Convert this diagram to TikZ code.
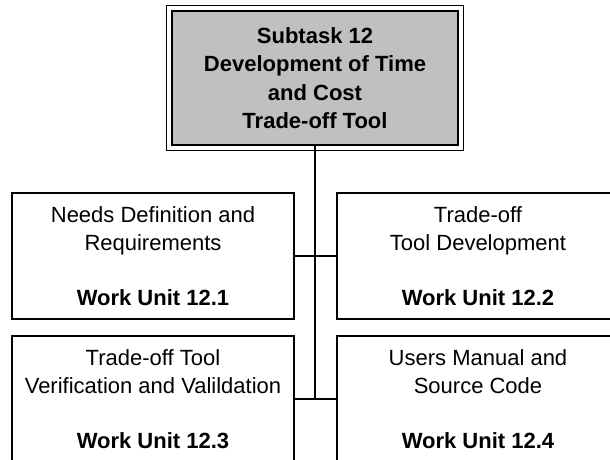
\documentclass[tikz,border=0pt]{standalone}
\usepackage{fontspec}
\setmainfont{Liberation Sans}
\definecolor{boxgray}{HTML}{C0C0C0}
\begin{document}
\begin{tikzpicture}[x=1pt,y=-1pt,
  unitbox/.style={draw=black, line width=1.5pt, minimum width=282pt, minimum height=126pt,
    inner sep=0pt, align=center, font=\fontsize{22}{27.5}\selectfont},
  topbox/.style={draw=black, line width=2.4pt, fill=boxgray, minimum width=286pt, minimum height=134pt,
    inner sep=0pt, align=center, font=\fontsize{22}{28.3}\selectfont\bfseries},
  link/.style={line width=1.7pt}]
\useasboundingbox (0,0) rectangle (610,459);
\clip (0,0) rectangle (610,459);
\fill[white] (0,0) rectangle (610,459);
% top box
\node[topbox] (top) at (315,78) {Subtask 12\\Development of Time\\and Cost\\Trade-off Tool};
\draw[line width=1.1pt] ([shift={(-4pt,-4pt)}]top.south west) rectangle ([shift={(4pt,4pt)}]top.north east);
% work units
\node[unitbox] (n1) at (153,256) {Needs Definition and\\Requirements\\[27.5pt]\textbf{Work Unit 12.1}};
\node[unitbox] (n2) at (478,256) {Trade-off\\Tool Development\\[27.5pt]\textbf{Work Unit 12.2}};
\node[unitbox] (n3) at (153,399) {Trade-off Tool\\Verification and Valildation\\[27.5pt]\textbf{Work Unit 12.3}};
\node[unitbox] (n4) at (478,399) {Users Manual and\\Source Code\\[27.5pt]\textbf{Work Unit 12.4}};
% connectors
\coordinate (j) at (315,399);
\draw[link] (top.south) -- (j);
\draw[link] (n1.east) -- (n2.west);
\draw[link] (n3.east) -- (n4.west);
\end{tikzpicture}
\end{document}
